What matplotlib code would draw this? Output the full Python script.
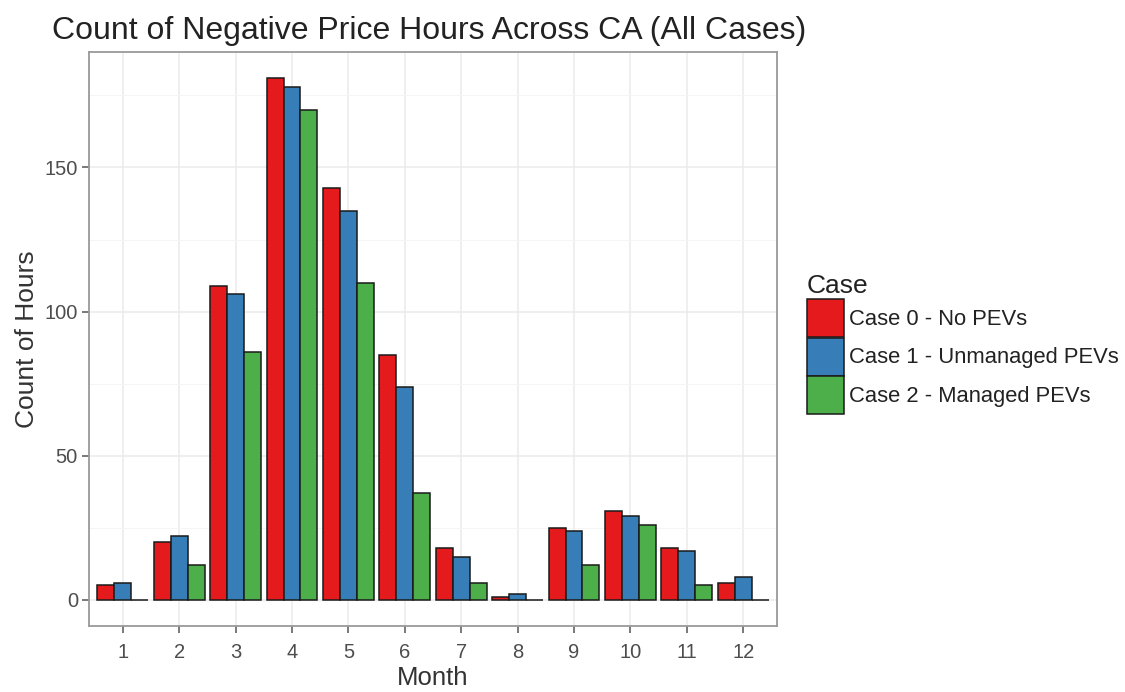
import matplotlib
matplotlib.use("Agg")
import matplotlib.pyplot as plt
from matplotlib.patches import Patch
import numpy as np

plt.rcParams['font.family'] = ['Liberation Sans', 'DejaVu Sans']

months = [1, 2, 3, 4, 5, 6, 7, 8, 9, 10, 11, 12]
case_labels = ["Case 0 - No PEVs", "Case 1 - Unmanaged PEVs", "Case 2 - Managed PEVs"]
case0 = [5, 20, 109, 181, 143, 85, 18, 1, 25, 31, 18, 6]
case1 = [6, 22, 106, 178, 135, 74, 15, 2, 24, 29, 17, 8]
case2 = [0, 12, 86, 170, 110, 37, 6, 0, 12, 26, 5, 0]
colors = ["#E41A1C", "#377EB8", "#4DAF4A"]

fig = plt.figure(figsize=(11.25, 6.92), dpi=100)
ax = fig.add_axes([0.0791, 0.0954, 0.6116, 0.8295])

x = np.array(months, dtype=float)
w = 0.3
series = [case0, case1, case2]
for i, (vals, c) in enumerate(zip(series, colors)):
    ax.bar(x + (i - 1) * w, vals, width=w, color=c, edgecolor="#1a1a1a", linewidth=1.1, zorder=3)

ymax = max(max(s) for s in series)
pad = ymax * 0.05
ax.set_ylim(-pad, ymax + pad)
ax.set_xlim(0.4, 12.6)
ax.set_xticks(months)
ax.set_xticklabels([str(m) for m in months])
ax.set_yticks([0, 50, 100, 150])
ax.set_yticks([25, 75, 125, 175], minor=True)
ax.grid(which='major', color='#EBEBEB', linewidth=1.1, zorder=0)
ax.grid(which='minor', axis='y', color='#F4F4F4', linewidth=0.6, zorder=0)
ax.tick_params(which='minor', length=0)
ax.tick_params(which='major', length=5, width=1.1, color='#555555', labelcolor='#4D4D4D', labelsize=14.5)
ax.tick_params(axis='x', pad=7)
ax.tick_params(axis='y', pad=3)
for s in ax.spines.values():
    s.set_color('#9A9A9A')
    s.set_linewidth(1.3)
ax.set_axisbelow(True)

ax.set_xlabel("Month", fontsize=18.5, color='#333333', labelpad=3)
ax.set_ylabel("Count of Hours", fontsize=19, color='#333333', labelpad=4)
fig.text(0.046, 0.955, "Count of Negative Price Hours Across CA (All Cases)", fontsize=23,
         color='#222222', ha='left', va='center')

handles = [Patch(facecolor=c, edgecolor='#1a1a1a', linewidth=1.1) for c in colors]
leg = fig.legend(handles, case_labels, loc='upper left', bbox_to_anchor=(0.717, 0.604),
                 frameon=False, fontsize=15.8, title="Case", title_fontsize=19,
                 handlelength=1.7, handleheight=2.28, labelspacing=0.04, handletextpad=0.25,
                 borderpad=0, borderaxespad=0)
leg._legend_box.align = "left"
for t in leg.get_texts():
    t.set_color('#222222')
leg.get_title().set_color('#222222')

fig.savefig("out.png", dpi=100)
